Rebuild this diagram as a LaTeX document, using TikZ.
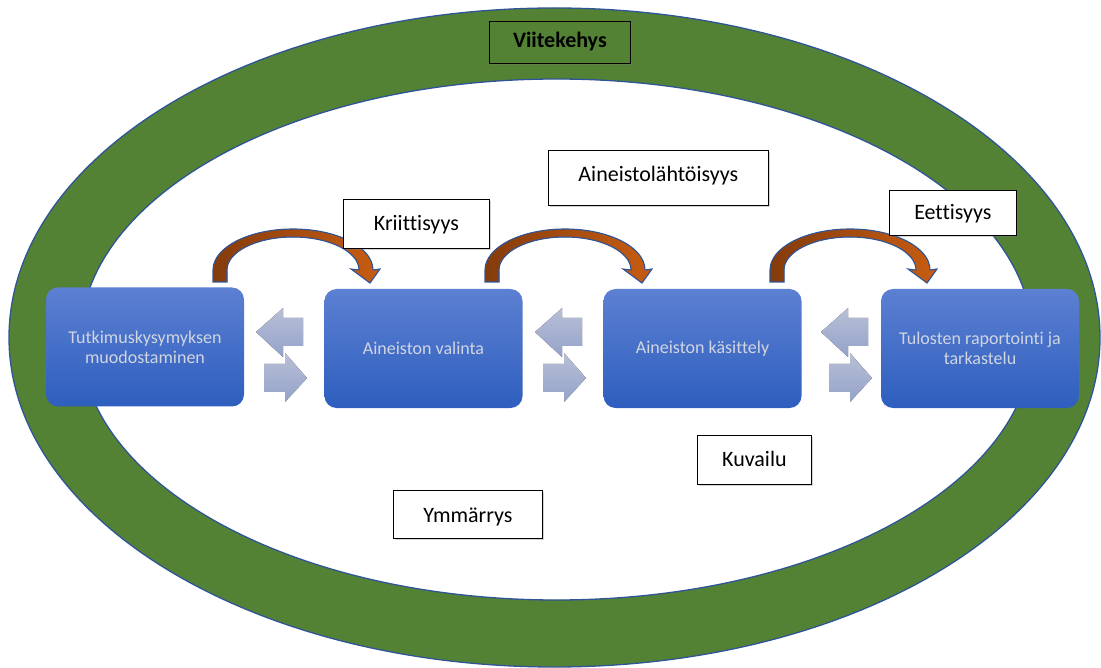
\documentclass[tikz,border=0pt]{standalone}
\usepackage{fontspec}
\setmainfont{Carlito}[Ligatures={NoCommon}]
\usetikzlibrary{shadows}
\definecolor{ringgreen}{RGB}{84,130,53}
\definecolor{ringblue}{RGB}{47,85,151}
\definecolor{boxtop}{RGB}{92,128,210}
\definecolor{boxbot}{RGB}{46,94,190}
\definecolor{boxtext}{RGB}{208,213,225}
\definecolor{arcdark}{RGB}{132,60,12}
\definecolor{arclight}{RGB}{200,92,18}
\definecolor{pairtop}{RGB}{202,210,236}
\definecolor{pairbot}{RGB}{162,178,222}
\tikzset{
  bluebox/.style={rounded corners=12pt, top color=boxtop, bottom color=boxbot, draw=none,
    minimum width=198pt, minimum height=119pt, text=boxtext, inner sep=0pt,
    font=\fontsize{18}{20}\selectfont, align=center},
  lbl/.style={draw=black, line width=0.8pt, fill=white, anchor=north west, inner sep=0pt,
    drop shadow={shadow xshift=1.5pt, shadow yshift=-1.5pt, opacity=0.35},
    font=\fontsize{22}{26}\selectfont},
  arcstyle/.style={left color=arcdark, right color=arclight, draw=ringblue, line width=1.1pt, line join=miter},
  pairstyle/.style={top color=pairtop, bottom color=pairbot, draw=none, opacity=0.9},
  curvarrow/.pic={
    \filldraw[arcstyle] (-80,12) -- (-80,0)
      arc[start angle=180, end angle=0, x radius=80pt, y radius=41pt]
      -- (87,-1) -- (77,13) -- (58,-1) -- (66,0)
      arc[start angle=0, end angle=180, x radius=66pt, y radius=33pt]
      -- (-66,12) -- cycle;
  },
  lrpair/.pic={
    \fill[pairstyle] (0,27) -- (27,3) -- (27,13) -- (47,13) -- (47,41) -- (27,41) -- (27,52) -- cycle;
    \fill[pairstyle] (8,59) -- (29,59) -- (29,48) -- (51,73) -- (29,97) -- (29,87) -- (8,87) -- cycle;
  }
}
\begin{document}
\begin{tikzpicture}[x=1pt, y=-1pt]
\useasboundingbox (0,0) rectangle (1101,668);
% ring
\fill[ringgreen, even odd rule] (554.5,337.5) ellipse[x radius=545.5pt, y radius=329.5pt]
  (556.5,339.5) ellipse[x radius=476pt, y radius=260.5pt];
\draw[ringblue, line width=1.3pt] (554.5,337.5) ellipse[x radius=545.5pt, y radius=329.5pt];
\draw[ringblue, line width=1.3pt] (556.5,339.5) ellipse[x radius=476pt, y radius=260.5pt];

% title
\node[lbl, fill=ringgreen, minimum width=141pt, text height=26pt, text depth=16pt,
  font=\fontsize{22}{26}\selectfont\bfseries] (viite) at (489,21) {Viitekehys};

% curved arrows
\pic at (293,270) {curvarrow};
\pic at (565,270) {curvarrow};
\pic at (850,270) {curvarrow};

% process boxes
\node[bluebox] (b1) at (145,347) {Tutkimuskysymyksen\\muodostaminen};
\node[bluebox] (b2) at (423.5,348.5) {Aineiston valinta};
\node[bluebox] (b3) at (702.5,348.5) {Aineiston käsittely};
\node[bluebox] (b4) at (980,348.5) {Tulosten raportointi ja\\tarkastelu};

% pair arrows
\pic at (256,305) {lrpair};
\pic at (535,305) {lrpair};
\pic at (821,305) {lrpair};

% labels
\node[lbl, minimum width=220pt, text height=31pt, text depth=24pt] (aine) at (548,150) {Aineistolähtöisyys};
\node[lbl, minimum width=146pt, text height=31pt, text depth=18pt] (krit) at (343,199) {Kriittisyys};
\node[lbl, minimum width=127pt, text height=29pt, text depth=16pt] (eett) at (889,190) {Eettisyys};
\node[lbl, minimum width=114pt, text height=31pt, text depth=18pt] (kuva) at (697,435) {Kuvailu};
\node[lbl, minimum width=149pt, text height=32pt, text depth=16pt] (ymm) at (393,490) {Ymmärrys};
\end{tikzpicture}
\end{document}
